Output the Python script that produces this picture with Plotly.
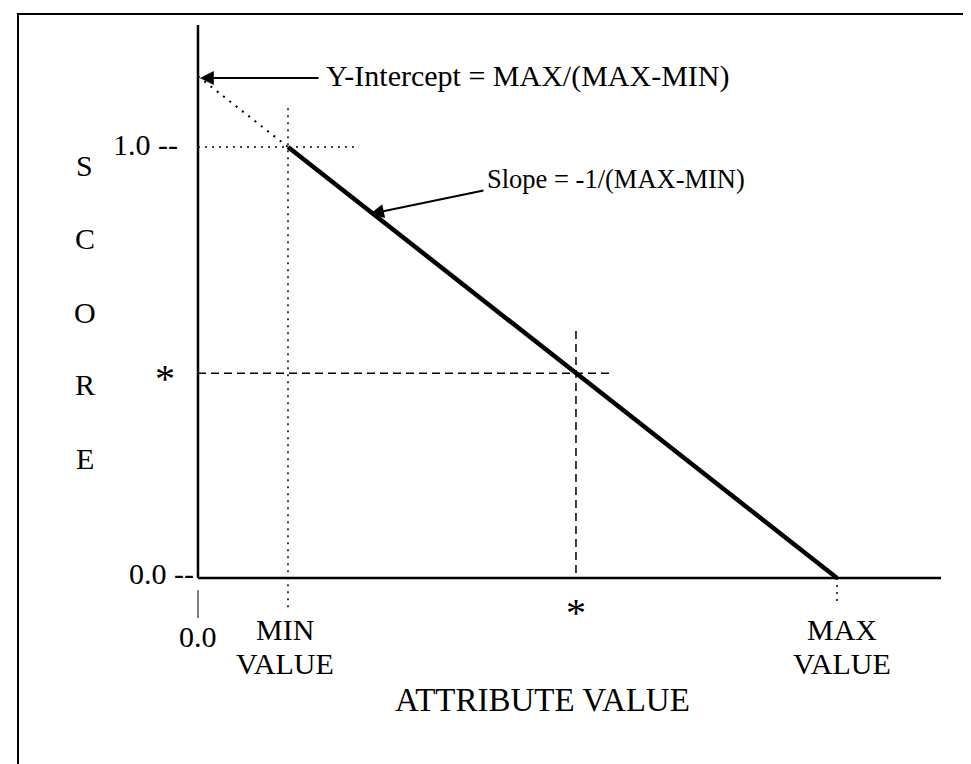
import plotly.graph_objects as go

# ---- chart values (conceptual units) ----
MIN_VALUE = 1.0
MAX_VALUE = 7.1
STAR_VALUE = 4.2
score_line_x = [MIN_VALUE, MAX_VALUE]
score_line_y = [1.0, 0.0]
Y_INTERCEPT = 1.164          # MAX/(MAX-MIN)
STAR_SCORE = 0.475
score_letters = ["S", "C", "O", "R", "E"]
score_letter_y = [0.956, 0.787, 0.615, 0.448, 0.278]
y_tick_labels = ["0.0 --", "1.0 --"]
y_tick_vals = [0.0, 1.0]

# ---- axis extents (data units) ----
X_RANGE = [-2.111, 8.678]
Y_RANGE = [-0.4501, 1.3225]
AXIS_X_END = 8.256
AXIS_Y_END = 1.283

FONT = "Times New Roman, Liberation Serif, serif"
BLACK = "#000000"

fig = go.Figure()

def seg(xs, ys, **line):
    fig.add_trace(go.Scatter(x=xs, y=ys, mode="lines", line=line, hoverinfo="skip"))

# axes
seg([0, AXIS_X_END], [0, 0], color=BLACK, width=2.5)
seg([0, 0], [0, AXIS_Y_END], color=BLACK, width=2.5)
# tick below origin
seg([0, 0], [-0.028, -0.093], color=BLACK, width=1)

# dotted helper lines
DOT = "2px,5px"
seg([0, MIN_VALUE], [Y_INTERCEPT, 1.0], color=BLACK, width=2, dash="2px,6px")
seg([MIN_VALUE, MIN_VALUE], [1.09, -0.07], color=BLACK, width=1.5, dash=DOT)
seg([0, 1.744], [1.0, 1.0], color=BLACK, width=1.5, dash=DOT)
seg([MAX_VALUE, MAX_VALUE], [0, -0.065], color=BLACK, width=1.5, dash=DOT)

# dashed star lines
DASH = "8px,5px"
seg([STAR_VALUE, STAR_VALUE], [0.573, 0], color=BLACK, width=1.5, dash=DASH)
seg([0, 4.589], [STAR_SCORE, STAR_SCORE], color=BLACK, width=1.5, dash=DASH)

# main score line
seg(score_line_x, score_line_y, color=BLACK, width=4.5)

ann = []
def txt(x, y, text, size=30, xanchor="center"):
    ann.append(dict(x=x, y=y, text=text, showarrow=False,
                    font=dict(family=FONT, size=size, color=BLACK),
                    xanchor=xanchor, yanchor="middle"))

for letter, yy in zip(score_letters, score_letter_y):
    txt(-1.256, yy, letter, 30)

txt(-0.2, y_tick_vals[1] + 0.005, y_tick_labels[1], 30, "right")
txt(-0.02, y_tick_vals[0] + 0.01, y_tick_labels[0], 30, "right")
txt(-0.367, STAR_SCORE - 0.012, "*", 40)

txt(0, -0.1346, "0.0", 30)
txt(0.967, -0.1206, "MIN", 30)
txt(0.967, -0.1972, "VALUE", 30)
txt(STAR_VALUE, -0.079, "*", 40)
txt(7.156, -0.1206, "MAX", 30)
txt(7.156, -0.1972, "VALUE", 30)
txt(3.833, -0.2831, "ATTRIBUTE VALUE", 33)

# arrows
ann.append(dict(x=0.02, y=1.160, ax=1.356, ay=1.160, axref="x", ayref="y", text="",
                showarrow=True, arrowhead=2, arrowsize=1.4, arrowwidth=2, arrowcolor=BLACK))
txt(1.40, 1.165, "Y-Intercept = MAX/(MAX-MIN)", 30, "left")
ann.append(dict(x=1.911, y=0.8445, ax=3.189, ay=0.900, axref="x", ayref="y", text="",
                showarrow=True, arrowhead=2, arrowsize=1.4, arrowwidth=2, arrowcolor=BLACK))
txt(3.19, 0.925, "Slope = -1/(MAX-MIN)", 26.5, "left")

fig.update_layout(
    width=971, height=764,
    margin=dict(l=0, r=0, t=0, b=0),
    paper_bgcolor="white", plot_bgcolor="white",
    showlegend=False,
    xaxis=dict(range=X_RANGE, visible=False, fixedrange=True),
    yaxis=dict(range=Y_RANGE, visible=False, fixedrange=True),
    annotations=ann,
    shapes=[dict(type="rect", xref="paper", yref="paper",
                 x0=10/971, x1=969/971, y0=1-762/764, y1=1-6/764,
                 line=dict(color=BLACK, width=2), fillcolor="rgba(0,0,0,0)")],
)

fig.write_html("out.html")
